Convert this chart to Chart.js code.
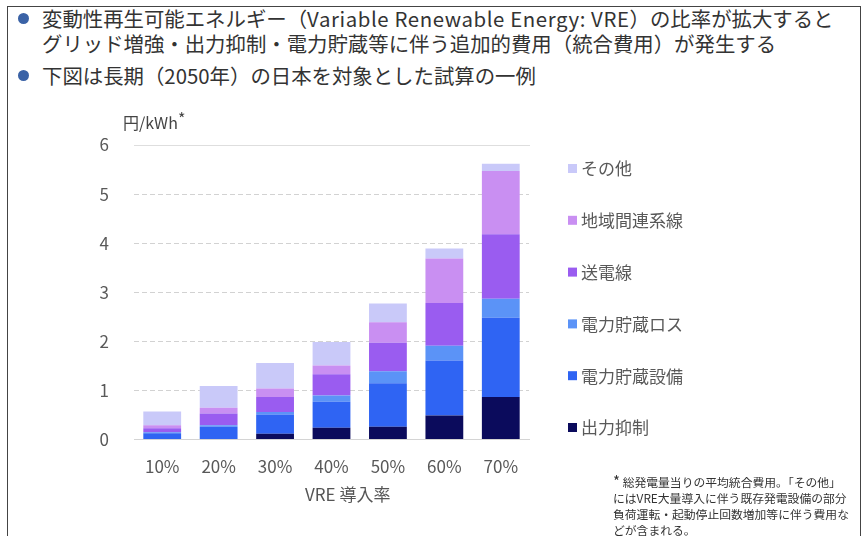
<!DOCTYPE html>
<html lang="ja">
<head>
<meta charset="utf-8">
<title>VRE 統合費用</title>
<script src="https://cdn.jsdelivr.net/npm/chart.js@4.4.1/dist/chart.umd.min.js"></script>
<style>
  html, body { margin: 0; padding: 0; background: #fff; }
  body { width: 866px; height: 536px; position: relative; overflow: hidden;
         font-family: "Noto Sans CJK JP", "Noto Sans", sans-serif; color: #333; }
  #frame { position: absolute; left: 7px; top: 6px; width: 854px; height: 560px;
           border: 1px solid #444; box-sizing: border-box; }
  .bullet { position: absolute; left: 18px; width: 11px; height: 11px; border-radius: 50%; background: #3a62a6; }
  .line { position: absolute; left: 42px; font-size: 20.4px; line-height: 24px; white-space: nowrap; color: #333; }
  .line .latin { letter-spacing: 0.6px; }
  #myChart { position: absolute; left: 0; top: 0; }
  #unit { position: absolute; left: 123px; top: 110px; font-size: 16px; color: #444; }
  #unit sup { font-size: 16px; position: relative; top: -4px; vertical-align: top; }
  #xTitle { position: absolute; left: 305px; top: 481px; font-size: 17px; color: #555; }
  #note { position: absolute; left: 613px; top: 473px; font-size: 11.8px; line-height: 16px; color: #333; white-space: nowrap; }
  #note .star { font-size: 15px; }
</style>
</head>
<body>
<div id="frame"></div>
<div class="bullet" style="top:13px"></div>
<div class="line" style="top:6px">変動性再生可能エネルギー（<span class="latin">Variable Renewable Energy: VRE</span>）の比率が拡大すると</div>
<div class="line" style="top:31px">グリッド増強・出力抑制・電力貯蔵等に伴う追加的費用（統合費用）が発生する</div>
<div class="bullet" style="top:70px"></div>
<div class="line" style="top:63px">下図は長期（2050年）の日本を対象とした試算の一例</div>

<canvas id="myChart" width="866" height="536"></canvas>

<div id="unit">円/kWh<sup>*</sup></div>
<div id="xTitle">VRE 導入率</div>
<div id="note"><span class="star">*</span> 総発電量当りの平均統合費用。「その他」<br>にはVRE大量導入に伴う既存発電設備の部分<br>負荷運転・起動停止回数増加等に伴う費用な<br>どが含まれる。</div>

<script>
// VRE share on the x axis
let labelArray = ['10%', '20%', '30%', '40%', '50%', '60%', '70%'];

// integration cost components, 円/kWh (stacked from the bottom up)
let curtailment     = [0.00, 0.01, 0.12, 0.24, 0.26, 0.49, 0.87];
let storageFacility = [0.13, 0.25, 0.39, 0.53, 0.89, 1.12, 1.61];
let storageLoss     = [0.02, 0.03, 0.05, 0.13, 0.24, 0.30, 0.39];
let transmission    = [0.08, 0.24, 0.31, 0.43, 0.58, 0.87, 1.31];
let interconnection = [0.06, 0.12, 0.17, 0.18, 0.42, 0.91, 1.29];
let otherCosts      = [0.28, 0.44, 0.52, 0.48, 0.38, 0.20, 0.15];

let yTicks = [0, 1, 2, 3, 4, 5, 6];

// legend drawn at the right, top item first (reverse of stack order)
const sideLegend = {
    id: 'sideLegend',
    afterDraw(chart) {
        const c = chart.ctx;
        const x = chart.chartArea.right + 39;
        let y = 169;
        c.save();
        c.font = '17px "Noto Sans CJK JP", sans-serif';
        c.textBaseline = 'middle';
        const sets = chart.data.datasets.slice().reverse();
        for (let i = 0; i < sets.length; i++) {
            c.fillStyle = sets[i].backgroundColor;
            c.fillRect(x, y - 5, 9, 9);
            c.fillStyle = '#595959';
            c.fillText(sets[i].label, x + 13, y);
            y += 51.8;
        }
        c.restore();
    }
};

var ctx = document.getElementById('myChart').getContext('2d');

var myChart = new Chart(ctx, {
    type: 'bar',
    data: {
        labels: labelArray,
        datasets: [
            { label: '出力抑制', data: curtailment, backgroundColor: '#0b0b5c' },
            { label: '電力貯蔵設備', data: storageFacility, backgroundColor: '#2f64f3' },
            { label: '電力貯蔵ロス', data: storageLoss, backgroundColor: '#5b93f7' },
            { label: '送電線', data: transmission, backgroundColor: '#9a5cf0' },
            { label: '地域間連系線', data: interconnection, backgroundColor: '#c98ff2' },
            { label: 'その他', data: otherCosts, backgroundColor: '#c9c9f9' }
        ]
    },
    options: {
        responsive: false,
        animation: false,
        layout: { padding: { left: 0, top: 145, right: 337, bottom: 42 } },
        datasets: {
            bar: { categoryPercentage: 1, barPercentage: 0.67 }
        },
        plugins: {
            legend: { display: false },
            tooltip: { enabled: false }
        },
        scales: {
            x: {
                stacked: true,
                grid: { display: false, drawTicks: false },
                border: { display: true, color: '#d4d4d4', width: 1 },
                ticks: { padding: 17, color: '#595959', font: { size: 17, family: '"Noto Sans CJK JP", sans-serif' } }
            },
            xTop: {
                type: 'category',
                position: 'top',
                grid: { display: false, drawTicks: false },
                border: { display: true, color: '#dedede', width: 1 },
                ticks: { display: false }
            },
            y: {
                stacked: true,
                min: 0,
                max: 6,
                afterFit: function (scale) { scale.width = 134; },
                afterBuildTicks: function (scale) {
                    scale.ticks = yTicks.map(v => ({ value: v }));
                },
                grid: { color: '#d2d2d2', lineWidth: 1, drawTicks: false },
                border: { display: false, dash: [5, 3] },
                ticks: { padding: 25, color: '#595959', font: { size: 17, family: '"Noto Sans CJK JP", sans-serif' } }
            }
        }
    },
    plugins: [sideLegend]
});
</script>
</body>
</html>
